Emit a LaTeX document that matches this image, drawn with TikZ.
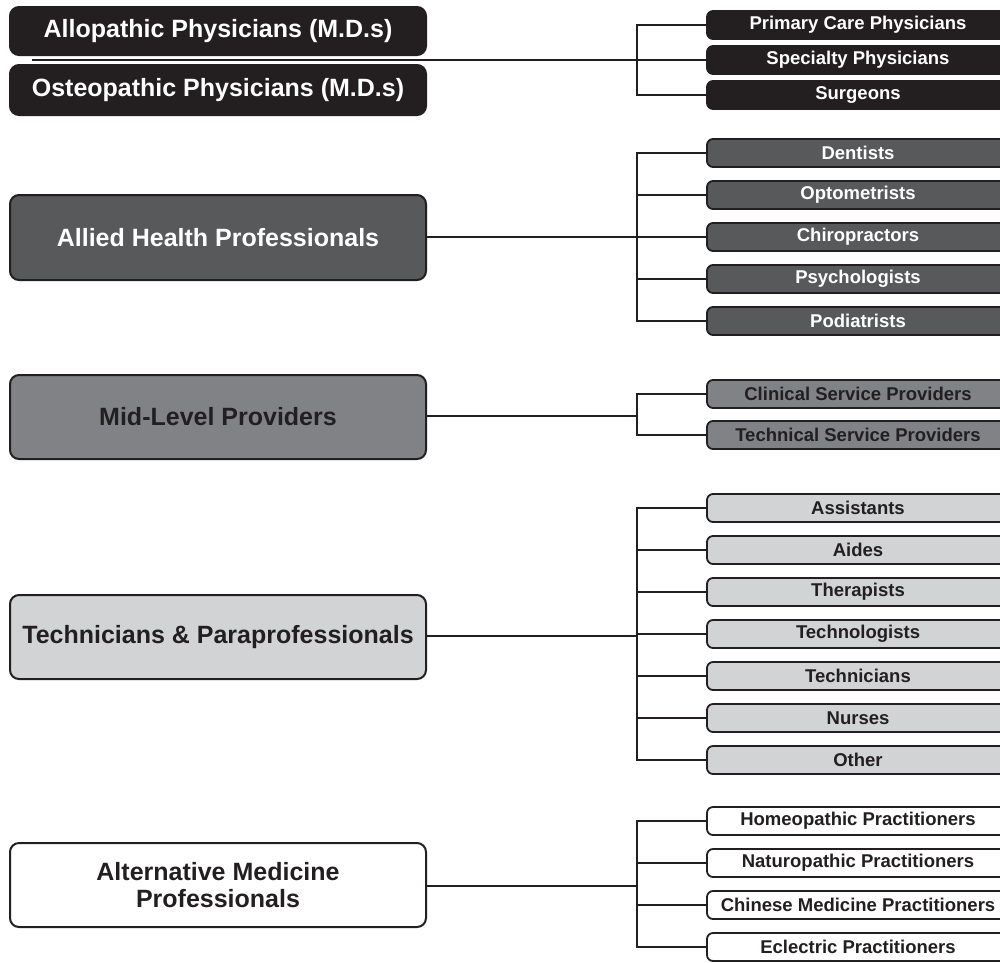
\documentclass[tikz,border=0pt]{standalone}
\usepackage{fontspec}
\setmainfont{Liberation Sans}
\definecolor{ink}{HTML}{231F20}
\definecolor{darkfill}{HTML}{58595B}
\definecolor{midfill}{HTML}{808285}
\definecolor{lightfill}{HTML}{D1D3D4}
\begin{document}
\begin{tikzpicture}[x=1pt,y=-1pt,
  conn/.style={draw=ink, line width=2pt},
  cat/.style={draw=ink, line width=2pt, rounded corners=9pt,
    minimum width=416pt, minimum height=84pt, inner sep=0pt, align=center,
    font=\bfseries\fontsize{25}{27}\selectfont},
  sub/.style={draw=ink, line width=1.8pt, rounded corners=6pt,
    minimum width=302pt, minimum height=28pt, inner sep=0pt,
    font=\bfseries\fontsize{18.5}{20}\selectfont},
  tone1/.style={fill=ink, text=white},
  tone2/.style={fill=darkfill, text=white},
  tone3/.style={fill=midfill, text=ink},
  tone4/.style={fill=lightfill, text=ink},
  tone5/.style={fill=white, text=ink}]
\path[use as bounding box, fill=white] (0,0) rectangle (1000,962);

% Physicians
\node[cat, tone1, minimum height=48pt] (allo) at (218,31) {Allopathic Physicians (M.D.s)};
\node[cat, tone1, minimum height=50pt] (osteo) at (218,90) {Osteopathic Physicians (M.D.s)};
\node[sub, tone1] (pc) at (858,25) {Primary Care Physicians};
\node[sub, tone1] (sp) at (858,60) {Specialty Physicians};
\node[sub, tone1] (su) at (858,95) {Surgeons};
\coordinate (physL) at (32,60);
\coordinate (physB) at (637,60);
\draw[conn] (physL) -- (physB);
\foreach \n in {pc,sp,su} \draw[conn] (physB) |- (\n.west);

% Allied health
\node[cat, tone2, minimum height=85pt] (allied) at (218,237.5) {Allied Health Professionals};
\node[sub, tone2] (ah1) at (858,153) {Dentists};
\node[sub, tone2] (ah2) at (858,195) {Optometrists};
\node[sub, tone2] (ah3) at (858,237) {Chiropractors};
\node[sub, tone2] (ah4) at (858,279) {Psychologists};
\node[sub, tone2] (ah5) at (858,321) {Podiatrists};
\coordinate (alliedB) at (637,237);
\draw[conn] (allied.east |- alliedB) -- (alliedB);
\foreach \n in {ah1,ah2,ah3,ah4,ah5} \draw[conn] (alliedB) |- (\n.west);

% Mid-level
\node[cat, tone3] (mid) at (218,417) {Mid-Level Providers};
\node[sub, tone3] (ml1) at (858,394) {Clinical Service Providers};
\node[sub, tone3] (ml2) at (858,435) {Technical Service Providers};
\coordinate (midB) at (637,416);
\draw[conn] (mid.east |- midB) -- (midB);
\foreach \n in {ml1,ml2} \draw[conn] (midB) |- (\n.west);

% Technicians
\node[cat, tone4] (tech) at (218,637) {Technicians \& Paraprofessionals};
\node[sub, tone4] (tp1) at (858,508) {Assistants};
\node[sub, tone4] (tp2) at (858,550) {Aides};
\node[sub, tone4] (tp3) at (858,592) {Therapists};
\node[sub, tone4] (tp4) at (858,634) {Technologists};
\node[sub, tone4] (tp5) at (858,676) {Technicians};
\node[sub, tone4] (tp6) at (858,718) {Nurses};
\node[sub, tone4] (tp7) at (858,760) {Other};
\coordinate (techB) at (637,636);
\draw[conn] (tech.east |- techB) -- (techB);
\foreach \n in {tp1,tp2,tp3,tp4,tp5,tp6,tp7} \draw[conn] (techB) |- (\n.west);

% Alternative medicine
\node[cat, tone5] (alt) at (218,885) {Alternative Medicine\\Professionals};
\node[sub, tone5] (am1) at (858,821) {Homeopathic Practitioners};
\node[sub, tone5] (am2) at (858,863) {Naturopathic Practitioners};
\node[sub, tone5] (am3) at (858,905) {Chinese Medicine Practitioners};
\node[sub, tone5] (am4) at (858,947) {Eclectric Practitioners};
\coordinate (altB) at (637,886);
\draw[conn] (alt.east |- altB) -- (altB);
\foreach \n in {am1,am2,am3,am4} \draw[conn] (altB) |- (\n.west);
\end{tikzpicture}
\end{document}
